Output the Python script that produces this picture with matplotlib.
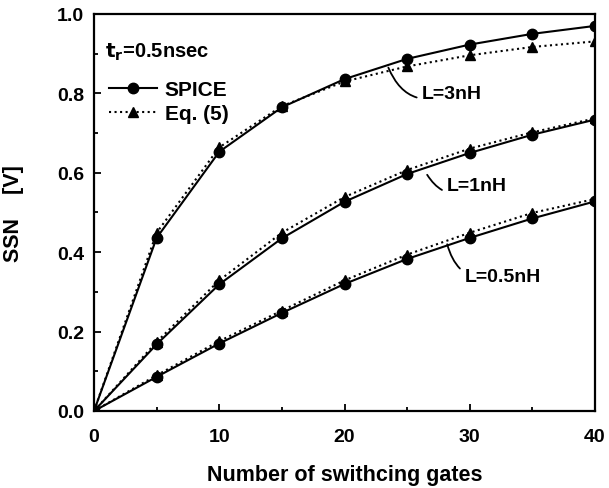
import matplotlib
matplotlib.use("Agg")
import matplotlib.pyplot as plt
from matplotlib.ticker import MultipleLocator

plt.rcParams['font.family'] = ['Liberation Sans', 'DejaVu Sans']
plt.rcParams['font.weight'] = 'bold'

gates = [0, 5, 10, 15, 20, 25, 30, 35, 40]

spice_3nH = [0.0, 0.436, 0.653, 0.765, 0.836, 0.887, 0.923, 0.950, 0.970]
eq_3nH    = [0.0, 0.449, 0.664, 0.768, 0.830, 0.868, 0.896, 0.917, 0.931]
spice_1nH = [0.0, 0.168, 0.319, 0.435, 0.527, 0.597, 0.650, 0.696, 0.734]
eq_1nH    = [0.0, 0.174, 0.329, 0.449, 0.539, 0.607, 0.661, 0.702, 0.737]
spice_05nH = [0.0, 0.086, 0.170, 0.247, 0.320, 0.383, 0.436, 0.485, 0.528]
eq_05nH    = [0.0, 0.090, 0.176, 0.253, 0.329, 0.394, 0.449, 0.499, 0.534]

labels_L = ["L=3nH", "L=1nH", "L=0.5nH"]

fig = plt.figure(figsize=(6.09, 4.89), dpi=100)
ax = fig.add_axes([94/609, 1-412/489, (595-94)/609, (412-15)/489])

for i, (s, e) in enumerate([(spice_3nH, eq_3nH), (spice_1nH, eq_1nH), (spice_05nH, eq_05nH)]):
    ax.plot(gates, s, '-', color='black', lw=1.5, marker='o', ms=7.5,
            label='SPICE' if i == 0 else None, zorder=3)
    ax.plot(gates, e, ':', color='black', lw=1.5, marker='^', ms=7.5,
            label='Eq. (5)' if i == 0 else None, zorder=2)

ax.set_xlim(0, 40)
ax.set_ylim(0, 1.0)
ax.xaxis.set_major_locator(MultipleLocator(10))
ax.xaxis.set_minor_locator(MultipleLocator(5))
ax.yaxis.set_major_locator(MultipleLocator(0.2))
ax.yaxis.set_minor_locator(MultipleLocator(0.1))
ax.yaxis.set_major_formatter(matplotlib.ticker.FormatStrFormatter('%.1f'))
ax.tick_params(which='both', direction='in', top=False, right=False,
               labelsize=14, width=1.3)
ax.tick_params(which='major', length=5)
ax.tick_params(which='minor', length=3)
ax.tick_params(axis='x', which='major', pad=12)
ax.tick_params(axis='y', which='major', pad=7)
for sp in ax.spines.values():
    sp.set_linewidth(1.6)
for lab in ax.get_xticklabels() + ax.get_yticklabels():
    lab.set_fontweight('bold')

ax.set_xlabel('Number of swithcing gates', fontsize=15.5, fontweight='bold', labelpad=14)
ax.set_ylabel('SSN    [V]', fontsize=15.5, fontweight='bold', labelpad=24)

ax.text(0.9, 0.905, r'$\mathbf{t_r}$=0.5nsec', fontsize=14.5, fontweight='bold', va='center')
leg = ax.legend(loc='upper left', bbox_to_anchor=(0.0, 0.87), frameon=False,
                prop={'size': 15, 'weight': 'bold'}, handlelength=2.3,
                handletextpad=0.4, labelspacing=0.25, borderaxespad=0.3)

ann = [((23.5, 0.865), (26.2, 0.80)),
       ((26.6, 0.595), (28.2, 0.567)),
       ((28.2, 0.42), (29.6, 0.340))]
for lab, (xy, xyt) in zip(labels_L, ann):
    ax.annotate(lab, xy=xy, xytext=xyt, fontsize=14, fontweight='bold',
                va='center', ha='left',
                arrowprops=dict(arrowstyle='-', color='black', lw=1.3,
                                connectionstyle='arc3,rad=-0.5',
                                shrinkA=2, shrinkB=0))

fig.savefig('out.png', dpi=100)
